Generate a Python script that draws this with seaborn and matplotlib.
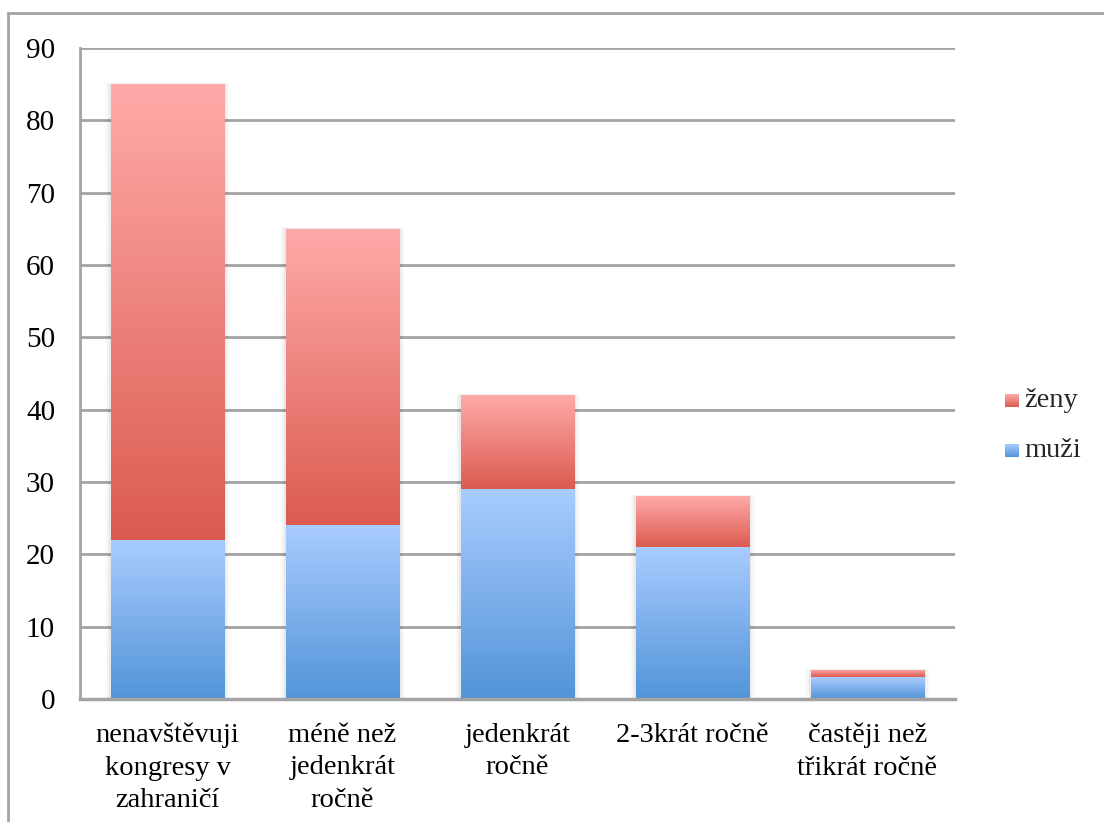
import numpy as np
import pandas as pd
import matplotlib
matplotlib.use("Agg")
import matplotlib.pyplot as plt
import seaborn as sns
from matplotlib.colors import LinearSegmentedColormap
from matplotlib.patches import Rectangle
from matplotlib.lines import Line2D

categories = [
    "nenavštěvuji\nkongresy v\nzahraničí",
    "méně než\njedenkrát\nročně",
    "jedenkrát\nročně",
    "2-3krát ročně",
    "častěji než\ntřikrát ročně",
]
muzi = [22, 24, 29, 21, 3]
zeny = [63, 41, 13, 7, 1]
series_names = ["ženy", "muži"]
y_ticks = [0, 10, 20, 30, 40, 50, 60, 70, 80, 90]

sns.set_theme(style="white")
plt.rcParams["font.family"] = ["Liberation Serif", "DejaVu Serif"]

df = pd.DataFrame({"kategorie": categories, "muži": muzi, "ženy": zeny})
df["celkem"] = df["muži"] + df["ženy"]

fig = plt.figure(figsize=(11.04, 8.22), dpi=100)
ax = fig.add_axes([0.0725, 0.1496, 0.7925, 0.792])

grid_c = "#A3A3A3"
fs = 20.5

# stacked bars: totals first, men drawn over them
sns.barplot(data=df, x="kategorie", y="celkem", color="#E98078", width=0.65,
            ax=ax, zorder=3, saturation=1)
n = len(categories)
sns.barplot(data=df, x="kategorie", y="muži", color="#7DB0EE", width=0.65,
            ax=ax, zorder=4, saturation=1)

cm_red = LinearSegmentedColormap.from_list("r", ["#DB5B50", "#FFAAA9"])
cm_blue = LinearSegmentedColormap.from_list("b", ["#5294D8", "#A9CCFF"])
grad = np.linspace(0, 1, 256).reshape(-1, 1)

patches = list(ax.patches)
for i, p in enumerate(patches):
    x0, w = p.get_x(), p.get_width()
    h = p.get_height()
    if i < n:
        lo, hi, cmap, z = muzi[i], h, cm_red, 3
    else:
        lo, hi, cmap, z = 0, h, cm_blue, 4
    p.set_facecolor("none")
    p.set_edgecolor("none")
    im = ax.imshow(grad, cmap=cmap, origin="lower", aspect="auto",
                   extent=[x0, x0 + w, lo, hi], zorder=z)
    im.set_clip_path(p)
    if i < n:
        # soft shadow around each full stack
        for k, a in enumerate([0.045, 0.03, 0.015]):
            d = 0.01 * (k + 1)
            ax.add_patch(Rectangle((x0 - d, 0), w + 2 * d, h + d * 8,
                                   facecolor="black", alpha=a, edgecolor="none",
                                   zorder=2.5))

ax.set_xlim(-0.5, n - 0.5)
ax.set_ylim(0, 90)
ax.set_yticks(y_ticks)
ax.yaxis.grid(True, color=grid_c, linewidth=2)
ax.set_axisbelow(True)
for s in ["right", "top"]:
    ax.spines[s].set_visible(False)
ax.spines["left"].set_color(grid_c)
ax.spines["left"].set_linewidth(2)
ax.spines["bottom"].set_color(grid_c)
ax.spines["bottom"].set_linewidth(2.5)
ax.spines["bottom"].set_zorder(5)
ax.set_xlabel("")
ax.set_ylabel("")
ax.tick_params(axis="y", length=0, pad=18, labelsize=fs + 0.5, colors="black")
ax.tick_params(axis="x", length=0, pad=17, labelsize=fs, colors="black")
for t in ax.get_xticklabels():
    t.set_linespacing(1.4)

# legend with gradient squares
for j, (name, cmap) in enumerate(zip(series_names, [cm_red, cm_blue])):
    yb = 0.505 - j * 0.061
    lax = fig.add_axes([0.9105, yb, 0.0118, 0.0158])
    lax.imshow(grad, cmap=cmap, origin="lower", aspect="auto")
    lax.axis("off")
    fig.text(0.928, yb + 0.008, name, fontsize=fs, va="center", ha="left")

# outer frame
fig.add_artist(Line2D([0.0072, 0.0072], [0, 0.984], color=grid_c, linewidth=2,
                      transform=fig.transFigure))
fig.add_artist(Line2D([0.0072, 1.0], [0.984, 0.984], color=grid_c, linewidth=2,
                      transform=fig.transFigure))

fig.savefig("out.png", dpi=100)
